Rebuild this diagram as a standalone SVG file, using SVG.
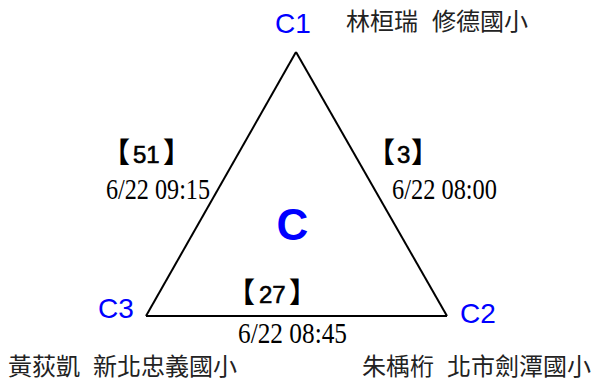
<svg xmlns="http://www.w3.org/2000/svg" width="592" height="383" viewBox="0 0 592 383">
<style>
.vl{font-family:"Liberation Sans",Arial,sans-serif;font-size:28px;fill:#0000ff}
.nm{font-family:"Noto Sans CJK TC","Noto Sans CJK SC",sans-serif;font-size:24px;fill:#222}
.wt{font-family:"Liberation Sans","Noto Sans CJK TC",sans-serif;font-size:24px;fill:#000;stroke:#000;stroke-width:0.6}
.br{font-family:"Noto Sans CJK TC","Noto Sans CJK SC",sans-serif;font-size:28px;font-weight:bold;stroke:none}
.dt{font-family:"Liberation Serif","Times New Roman",serif;font-size:30px;fill:#000}
.edge{stroke:#000;stroke-width:2;fill:none}
</style>
<rect width="592" height="383" fill="#fff"/>
<g id="connectors">
<line class="edge" x1="296" y1="52" x2="146" y2="316"/>
<line class="edge" x1="296" y1="52" x2="447" y2="316"/>
<line class="edge" x1="146" y1="316" x2="447" y2="316"/>
<text class="wt" y="163"><tspan class="br" x="102">【</tspan><tspan x="133">51</tspan><tspan class="br" x="163">】</tspan></text>
<text class="dt" x="106" y="199" textLength="104" lengthAdjust="spacingAndGlyphs">6/22 09:15</text>
<text class="wt" y="163"><tspan class="br" x="367">【</tspan><tspan x="397">3</tspan><tspan class="br" x="411">】</tspan></text>
<text class="dt" x="392" y="199" textLength="105" lengthAdjust="spacingAndGlyphs">6/22 08:00</text>
<text class="wt" y="303"><tspan class="br" x="227">【</tspan><tspan x="259">27</tspan><tspan class="br" x="289">】</tspan></text>
<text class="dt" x="238" y="343" textLength="109" lengthAdjust="spacingAndGlyphs">6/22 08:45</text>
</g>
<g id="C1">
<text class="vl" x="275" y="33">C1</text>
<text class="nm" y="30"><tspan x="346">林桓瑞</tspan><tspan x="432">修德國小</tspan></text>
</g>
<g id="C2">
<text class="vl" x="460" y="323">C2</text>
<text class="nm" y="375"><tspan x="362">朱楀桁</tspan><tspan x="447">北市劍潭國小</tspan></text>
</g>
<g id="C3">
<text class="vl" x="98" y="318">C3</text>
<text class="nm" y="375"><tspan x="8">黃荻凱</tspan><tspan x="93">新北忠義國小</tspan></text>
</g>
<g id="C">
<text x="292.5" y="240" text-anchor="middle" style="font-family:'Liberation Sans',Arial,sans-serif;font-size:44px;font-weight:bold;fill:#0000ff">C</text>
</g>
</svg>
